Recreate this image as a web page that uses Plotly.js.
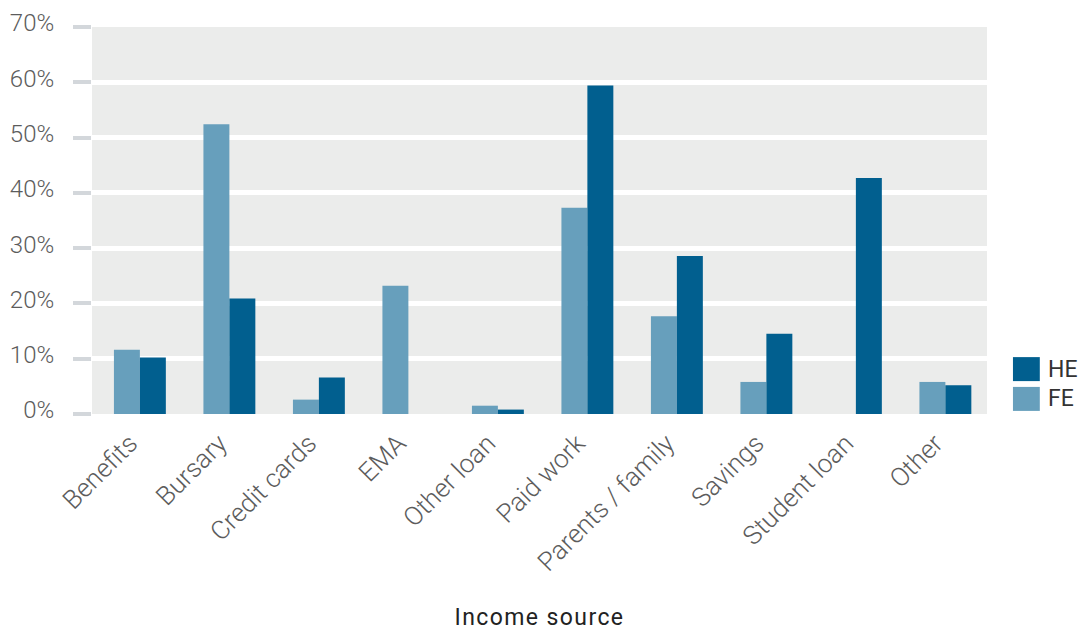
<!DOCTYPE html>
<html>
<head>
<meta charset="utf-8">
<script src="https://cdn.plot.ly/plotly-3.0.1.min.js"></script>
<style>
  html, body { margin: 0; padding: 0; background: #fff; }
  #chart { width: 1084px; height: 631px; }
  .xtitle { letter-spacing: 1.4px; }
</style>
</head>
<body>
<div id="chart"></div>
<script>
// Income sources by student group (percentage of respondents)
const categories = ['Benefits', 'Bursary', 'Credit cards', 'EMA', 'Other loan',
                    'Paid work', 'Parents / family', 'Savings', 'Student loan', 'Other'];
const feValues = [11.6, 52.4, 2.6, 23.2, 1.5, 37.3, 17.7, 5.8, 0, 5.8];
const heValues = [10.2, 20.9, 6.6, 0, 0.8, 59.4, 28.6, 14.5, 42.7, 5.2];
const yTickValues = [0, 10, 20, 30, 40, 50, 60, 70];
const yTickLabels = ['0%', '10%', '20%', '30%', '40%', '50%', '60%', '70%'];

const series = [
  { name: 'FE', values: feValues, color: '#679fbc' },
  { name: 'HE', values: heValues, color: '#015f8f' }
];

const traces = series.map(s => ({
  type: 'bar',
  name: s.name,
  x: categories,
  y: s.values,
  marker: { color: s.color, line: { width: 0 } },
  hoverinfo: 'x+y+name'
}));

// Legend swatches, HE listed above FE
const legendOrder = [series[1], series[0]];
const shapes = [];
const annotations = [];
legendOrder.forEach((s, i) => {
  const top = 0.147 - i * 0.077;
  shapes.push({
    type: 'rect', xref: 'paper', yref: 'paper',
    x0: 1.029, x1: 1.059, y0: top - 0.062, y1: top,
    fillcolor: s.color, line: { width: 0 }
  });
  annotations.push({
    xref: 'paper', yref: 'paper', x: 1.066, y: top - 0.031,
    xanchor: 'left', yanchor: 'middle', showarrow: false,
    text: s.name, font: { family: 'Roboto, sans-serif', size: 23, color: '#333' }
  });
});

const yTickFont = { family: 'Roboto, sans-serif', size: 24, color: '#5c5c5c', weight: 300 };
const xTickFont = { family: 'Roboto, sans-serif', size: 26, color: '#5c5c5c', weight: 300 };

const layout = {
  width: 1084,
  height: 631,
  margin: { l: 92, r: 97, t: 27, b: 217 },
  paper_bgcolor: '#ffffff',
  plot_bgcolor: '#ebeceb',
  barmode: 'group',
  bargap: 0.42,
  bargroupgap: 0,
  showlegend: false,
  xaxis: {
    type: 'category',
    range: [-0.535, 9.465],
    tickangle: -45,
    tickfont: xTickFont,
    ticks: '',
    ticklabelstandoff: 8,
    ticklabelshift: -10,
    showgrid: false,
    showline: false,
    zeroline: false,
    fixedrange: true,
    title: {
      text: 'Income source',
      standoff: 36,
      font: { family: 'Roboto, sans-serif', size: 23, color: '#222' }
    }
  },
  yaxis: {
    range: [0, 70],
    tickvals: yTickValues,
    ticktext: yTickLabels,
    tickfont: yTickFont,
    ticks: 'outside',
    ticklen: 18,
    tickwidth: 4,
    tickcolor: '#d3d7db',
    ticklabelstandoff: 14,
    ticklabelshift: -4,
    showgrid: true,
    gridcolor: '#ffffff',
    gridwidth: 5,
    zeroline: false,
    showline: false,
    fixedrange: true
  },
  shapes: shapes,
  annotations: annotations
};

Plotly.newPlot('chart', traces, layout, { displayModeBar: false, staticPlot: true });
</script>
</body>
</html>
